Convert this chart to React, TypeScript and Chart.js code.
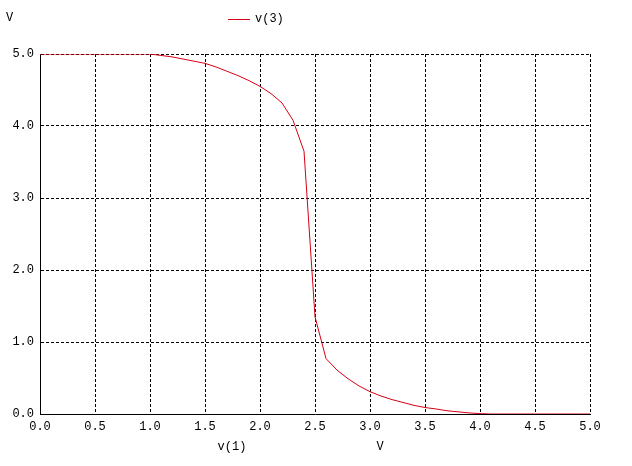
import React, { useEffect, useRef } from "react";
import { Chart, registerables } from "chart.js";

Chart.register(...registerables);

const xValues = [
  0.0, 0.1, 0.2, 0.3, 0.4, 0.5, 0.6, 0.7, 0.8, 0.9, 1.0, 1.1, 1.2, 1.3, 1.4, 1.5, 1.6, 1.7, 1.8, 1.9, 2.0,
  2.1, 2.2, 2.3, 2.4, 2.5, 2.6, 2.7, 2.8, 2.9, 3.0, 3.1, 3.2, 3.3, 3.4, 3.5, 3.6, 3.7, 3.8, 3.9, 4.0,
  4.1, 4.2, 4.3, 4.4, 4.5, 4.6, 4.7, 4.8, 4.9, 5.0,
];
const v3Values = [
  5.0, 5.0, 5.0, 5.0, 5.0, 5.0, 5.0, 5.0, 5.0, 5.0, 5.0, 4.98, 4.96, 4.93, 4.9, 4.87, 4.82, 4.76, 4.7, 4.63, 4.55,
  4.45, 4.32, 4.08, 3.65, 1.35, 0.77, 0.61, 0.49, 0.39, 0.31, 0.25, 0.2, 0.16, 0.12, 0.09, 0.07, 0.045, 0.03, 0.015, 0.005,
  0, 0, 0, 0, 0, 0, 0, 0, 0, 0,
];
const seriesLabel = "v(3)";
const xAxisTitle = "v(1)";
const xAxisUnit = "V";
const yAxisUnit = "V";

const FONT = "'Courier New', 'Liberation Mono', monospace";
const LINE_COLOR = "rgb(215,0,20)";

export default function App() {
  const ref = useRef<HTMLCanvasElement | null>(null);
  useEffect(() => {
    if (!ref.current) return;
    const textPlugin = {
      id: "texts",
      afterDraw(chart: any) {
        const ctx = chart.ctx;
        ctx.save();
        ctx.fillStyle = "#000";
        ctx.font = `12px ${FONT}`;
        ctx.textBaseline = "middle";
        ctx.textAlign = "left";
        ctx.fillText(yAxisUnit, 6, 18);
        // legend
        ctx.strokeStyle = LINE_COLOR;
        ctx.lineWidth = 1;
        ctx.beginPath();
        ctx.moveTo(228, 19.5);
        ctx.lineTo(250, 19.5);
        ctx.stroke();
        ctx.fillText(seriesLabel, 255, 19);
        // x titles
        ctx.textAlign = "center";
        ctx.fillText(xAxisTitle, 232, 447);
        ctx.fillText(xAxisUnit, 380, 447);
        ctx.restore();
      },
    };
    const chart = new Chart(ref.current, {
      type: "line",
      data: {
        labels: xValues,
        datasets: [
          {
            label: seriesLabel,
            data: xValues.map((x, i) => ({ x, y: v3Values[i] })),
            borderColor: LINE_COLOR,
            borderWidth: 1,
            pointRadius: 0,
            tension: 0,
            fill: false,
          },
        ],
      },
      options: {
        animation: false,
        responsive: false,
        maintainAspectRatio: false,
        layout: { padding: { top: 54, right: 42, left: 0, bottom: 0 } },
        plugins: { legend: { display: false }, title: { display: false }, tooltip: { enabled: false } },
        scales: {
          x: {
            type: "linear",
            min: 0,
            max: 5,
            afterFit: (s: any) => {
              s.height = 52;
            },
            ticks: {
              stepSize: 0.5,
              color: "#000",
              font: { family: FONT, size: 12 },
              padding: 6,
              maxRotation: 0,
              autoSkip: false,
              callback: (v: any) => Number(v).toFixed(1),
            },
            grid: { color: "#000", drawTicks: false, tickBorderDash: [3, 2] },
            border: { display: true, color: "#000", width: 1, dash: [3, 2] },
          },
          y: {
            type: "linear",
            min: 0,
            max: 5,
            afterFit: (s: any) => {
              s.width = 40;
            },
            ticks: {
              stepSize: 1,
              color: "#000",
              font: { family: FONT, size: 12 },
              padding: 6,
              callback: (v: any) => Number(v).toFixed(1),
            },
            grid: { color: "#000", drawTicks: false },
            border: { display: true, color: "#000", width: 1, dash: [3, 2] },
          },
        },
      },
      plugins: [textPlugin],
    } as any);
    return () => chart.destroy();
  }, []);
  return (
    <div style={{ position: "fixed", left: 0, top: 0, width: 632, height: 466, background: "#fff" }}>
      <canvas ref={ref} width={632} height={466} style={{ width: 632, height: 466 }} />
    </div>
  );
}
